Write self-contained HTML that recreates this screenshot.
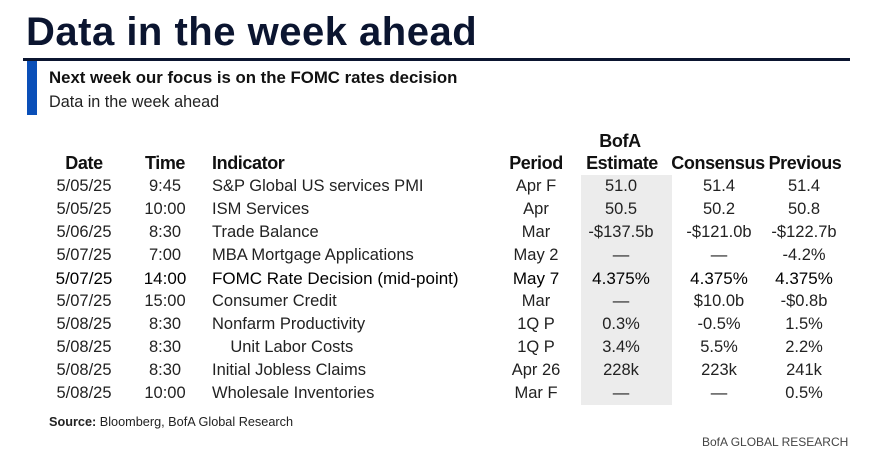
<!DOCTYPE html>
<html><head><style>
body{margin:0;width:892px;height:475px;background:#fff;position:relative;font-family:"Liberation Sans",sans-serif;color:#111;overflow:hidden}
.a{position:absolute;white-space:nowrap}
.c{transform:translateX(-50%)}
.h{font-weight:bold;font-size:18px;color:#111;letter-spacing:-0.4px}
.r{font-size:16.5px;color:#222}
</style></head><body>
<div class="a" style="left:26px;top:10px;font:bold 40px 'Liberation Sans',sans-serif;color:#0b1530;letter-spacing:0.5px">Data in the week ahead</div>
<div class="a" style="left:23px;top:58px;width:827px;height:3px;background:#0b1530"></div>
<div class="a" style="left:27px;top:61px;width:10px;height:54px;background:#0a4fb8"></div>
<div class="a" style="left:49px;top:68px;font-weight:bold;font-size:16.8px;color:#111">Next week our focus is on the FOMC rates decision</div>
<div class="a" style="left:49px;top:93px;font-size:16.2px;color:#222">Data in the week ahead</div>
<div class="a" style="left:581px;top:175px;width:91px;height:230px;background:#ececec"></div>
<div class="a h c" style="left:620px;top:131px">BofA</div>
<div class="a h c" style="left:84px;top:153px">Date</div>
<div class="a h c" style="left:165px;top:153px">Time</div>
<div class="a h" style="left:212px;top:153px">Indicator</div>
<div class="a h c" style="left:536px;top:153px">Period</div>
<div class="a h c" style="left:622px;top:153px">Estimate</div>
<div class="a h c" style="left:718px;top:153px">Consensus</div>
<div class="a h c" style="left:805px;top:153px">Previous</div>
<div id="rows"></div>
<script>
var d=[["5/05/25","9:45","S&P Global US services PMI","Apr F","51.0","51.4","51.4"],
["5/05/25","10:00","ISM Services","Apr","50.5","50.2","50.8"],
["5/06/25","8:30","Trade Balance","Mar","-$137.5b","-$121.0b","-$122.7b"],
["5/07/25","7:00","MBA Mortgage Applications","May 2","—","—","-4.2%"],
["5/07/25","14:00","FOMC Rate Decision (mid-point)","May 7","4.375%","4.375%","4.375%"],
["5/07/25","15:00","Consumer Credit","Mar","—","$10.0b","-$0.8b"],
["5/08/25","8:30","Nonfarm Productivity","1Q P","0.3%","-0.5%","1.5%"],
["5/08/25","8:30","&nbsp;&nbsp;&nbsp;&nbsp;Unit Labor Costs","1Q P","3.4%","5.5%","2.2%"],
["5/08/25","8:30","Initial Jobless Claims","Apr 26","228k","223k","241k"],
["5/08/25","10:00","Wholesale Inventories","Mar F","—","—","0.5%"]];
var h="";
d.forEach(function(r,i){var t=177+i*23;var s=i==4?"color:#000;font-size:17px;":"";
h+='<div class="a r c" style="'+s+'left:84px;top:'+t+'px">'+r[0]+'</div>';
h+='<div class="a r c" style="'+s+'left:165px;top:'+t+'px">'+r[1]+'</div>';
h+='<div class="a r" style="'+s+'left:212px;top:'+t+'px">'+r[2]+'</div>';
h+='<div class="a r c" style="'+s+'left:536px;top:'+t+'px">'+r[3]+'</div>';
h+='<div class="a r c" style="'+s+'left:621px;top:'+t+'px">'+r[4]+'</div>';
h+='<div class="a r c" style="'+s+'left:719px;top:'+t+'px">'+r[5]+'</div>';
h+='<div class="a r c" style="'+s+'left:804px;top:'+t+'px">'+r[6]+'</div>';});
document.getElementById("rows").innerHTML=h;
</script>
<div class="a" style="left:49px;top:415px;font-size:12.7px;color:#222"><b>Source:</b> Bloomberg, BofA Global Research</div>
<div class="a" style="left:702px;top:435px;font-size:12px;color:#444">BofA GLOBAL RESEARCH</div>
</body></html>
